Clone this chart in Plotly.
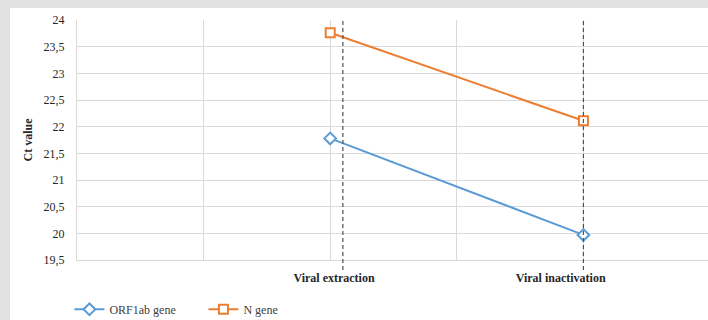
import plotly.graph_objects as go

# Ct values per processing step
categories = ["Viral extraction", "Viral inactivation"]
orf1ab_gene = [21.78, 19.97]
n_gene = [23.76, 22.11]

# horizontal layout of the category axis (axis units, one grid cell = 1)
category_x = [2.0, 4.0]
label_x = [2.03, 3.82]
divider_x = [2.1, 4.0]
x_range = [0, 4.984]

BLUE = "#5b9bd5"
ORANGE = "#ed7d31"
GRID = "#d9d9d9"
SERIF = "Liberation Serif"

fig = go.Figure()

fig.add_trace(go.Scatter(
    x=category_x, y=orf1ab_gene, name="ORF1ab gene",
    mode="lines+markers",
    line=dict(color=BLUE, width=2),
    marker=dict(symbol="diamond", size=9, color="white",
                line=dict(color=BLUE, width=2)),
))
fig.add_trace(go.Scatter(
    x=category_x, y=n_gene, name="N gene",
    mode="lines+markers",
    line=dict(color=ORANGE, width=2),
    marker=dict(symbol="square", size=9, color="white",
                line=dict(color=ORANGE, width=2)),
))

# invisible trace carrying the category labels on an overlay axis
fig.add_trace(go.Scatter(
    x=label_x, y=[None, None], xaxis="x2", showlegend=False,
    hoverinfo="skip", mode="markers",
))

shapes = [
    # white card on the grey page
    dict(type="rect", xref="paper", yref="paper", layer="below",
         x0=(10 - 77) / 631, x1=1.05, y0=-0.4, y1=1 + 12 / 240,
         fillcolor="white", line=dict(width=0)),
]
for xv in divider_x:
    shapes.append(dict(
        type="line", xref="x", yref="paper", x0=xv, x1=xv,
        y0=-0.042, y1=1, line=dict(color="#505050", width=1.2, dash="4px,3px"),
    ))

fig.update_layout(
    width=708, height=320,
    margin=dict(l=77, r=0, t=20, b=60, autoexpand=False),
    paper_bgcolor="#e1e1e1",
    plot_bgcolor="white",
    separators=", ",
    font=dict(family=SERIF, size=12, color="#262626"),
    shapes=shapes,
    showlegend=True,
    legend=dict(
        orientation="h", x=-0.012, xanchor="left", y=-0.145, yanchor="top",
        font=dict(family=SERIF, size=12, color="#404040"),
        bgcolor="rgba(0,0,0,0)", entrywidth=89, entrywidthmode="pixels",
    ),
    xaxis=dict(
        range=x_range, dtick=1, tick0=0, showticklabels=False,
        showgrid=True, gridcolor=GRID, gridwidth=1,
        zeroline=False, showline=True, linecolor=GRID, linewidth=1,
        ticks="", fixedrange=True,
    ),
    xaxis2=dict(
        overlaying="x", side="bottom", range=x_range,
        tickmode="array", tickvals=label_x, ticktext=categories,
        showgrid=False, zeroline=False, showline=False, ticks="",
        tickfont=dict(family=SERIF, size=12, color="#262626", weight="bold"),
        ticklabelstandoff=9,
    ),
    yaxis=dict(
        range=[19.5, 24], dtick=0.5, tick0=19.5,
        showgrid=True, gridcolor=GRID, gridwidth=1,
        zeroline=False, showline=True, linecolor=GRID, linewidth=1,
        ticks="", ticklabelstandoff=9, tickformat=".1~f",
        tickfont=dict(family=SERIF, size=12, color="#262626"),
        title=dict(text="Ct value", standoff=8,
                   font=dict(family=SERIF, size=12, color="#262626",
                             weight="bold")),
    ),
)

fig.write_html("out.html")
